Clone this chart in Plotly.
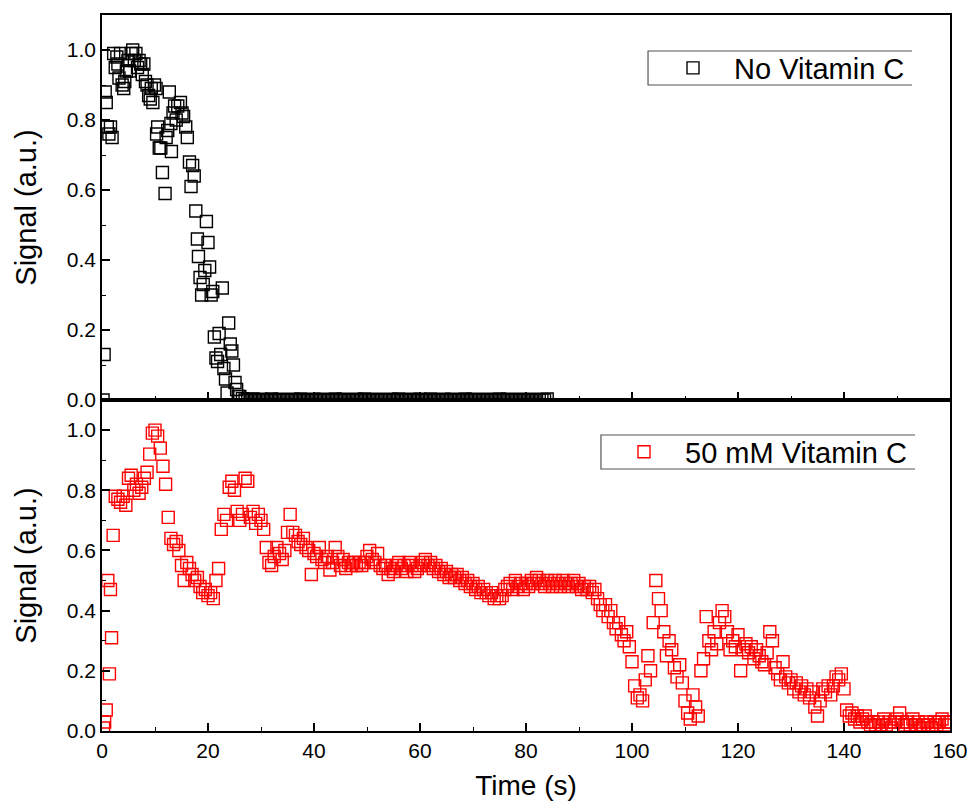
import numpy as np
import plotly.graph_objects as go

# ---- data -----------------------------------------------------------------
# No Vitamin C: (time s, signal a.u.) during the decay phase
NO_VC_DECAY = [
    (0.2, 0.00), (0.4, 0.13), (0.6, 0.88), (0.8, 0.85), (1.0, 0.78), (1.3, 0.76),
    (1.6, 0.78), (1.9, 0.75), (2.2, 0.99), (2.5, 0.95), (2.8, 0.98), (3.0, 0.96),
    (3.2, 0.92), (3.5, 0.99), (3.8, 0.90), (4.1, 0.89), (4.3, 0.91), (4.6, 0.94),
    (4.9, 0.97), (5.2, 0.94), (5.5, 0.99), (5.8, 1.00), (6.1, 0.97), (6.4, 0.99),
    (6.7, 0.95), (7.0, 0.97), (7.3, 0.96), (7.6, 0.93), (7.9, 0.96), (8.2, 0.91),
    (8.5, 0.90), (8.8, 0.87), (9.1, 0.86), (9.3, 0.89), (9.6, 0.85), (9.9, 0.90),
    (10.2, 0.89), (10.3, 0.76), (10.5, 0.78), (10.8, 0.72), (11.1, 0.72), (11.4, 0.65),
    (11.9, 0.59), (12.1, 0.75), (12.4, 0.77), (12.7, 0.88), (13.0, 0.79), (13.1, 0.71),
    (13.4, 0.82), (13.7, 0.84), (14.0, 0.80), (14.3, 0.84), (14.8, 0.85), (15.1, 0.82),
    (15.4, 0.81), (15.8, 0.78), (16.1, 0.75), (16.5, 0.68), (16.8, 0.61), (17.1, 0.67),
    (17.4, 0.64), (17.7, 0.54), (18.0, 0.46), (18.2, 0.41), (18.5, 0.35), (18.8, 0.30),
    (19.1, 0.33), (19.4, 0.37), (19.7, 0.51), (20.0, 0.45), (20.3, 0.38), (20.6, 0.30),
    (20.9, 0.31), (21.2, 0.18), (21.5, 0.12), (21.8, 0.11), (22.1, 0.19), (22.4, 0.13),
    (22.7, 0.32), (23.0, 0.09), (23.3, 0.06), (23.6, 0.02), (23.9, 0.22), (24.2, 0.16),
    (24.5, 0.14), (24.8, 0.10), (25.1, 0.05), (25.4, 0.03), (25.7, 0.01), (26.0, 0.01),
]

# No Vitamin C: baseline after the signal is gone, sampled every 0.5 s from 26.5 s
NO_VC_BASE_START = 26.5
NO_VC_BASE_STEP = 0.5
NO_VC_BASE = [
    0.004, 0.0, 0.002, 0.0, 0.003, 0.0, 0.0, 0.002, 0.0, 0.001,
    0.0, 0.003, 0.0, 0.0, 0.002, 0.0, 0.001, 0.0, 0.0, 0.002,
    0.0, 0.0, 0.003, 0.0, 0.001, 0.0, 0.0, 0.002, 0.0, 0.0,
    0.002, 0.0, 0.0, 0.001, 0.0, 0.003, 0.0, 0.0, 0.002, 0.0,
    0.0, 0.001, 0.0, 0.002, 0.0, 0.0, 0.003, 0.0, 0.0, 0.001,
    0.0, 0.002, 0.0, 0.0, 0.001, 0.0, 0.002, 0.0, 0.0, 0.003,
    0.0, 0.0, 0.001, 0.0, 0.002, 0.0, 0.0, 0.002, 0.0, 0.001,
    0.0, 0.003, 0.0, 0.0, 0.001, 0.0, 0.002, 0.0, 0.0, 0.002,
    0.0, 0.0, 0.001, 0.0, 0.003, 0.0, 0.0, 0.002, 0.0, 0.0,
    0.001, 0.0, 0.002, 0.0, 0.0, 0.001, 0.0, 0.003, 0.0, 0.0,
    0.002, 0.0, 0.0, 0.001, 0.0, 0.002, 0.0, 0.0, 0.001, 0.0,
    0.002, 0.0, 0.0, 0.001, 0.0, 0.003,
]

# 50 mM Vitamin C: onset points (time s, signal a.u.)
VC_ONSET = [
    (0.3, 0.01), (0.5, 0.03), (0.8, 0.07), (1.1, 0.50),
    (1.4, 0.19), (1.6, 0.47), (1.8, 0.31), (2.1, 0.65),
]

# 50 mM Vitamin C: signal sampled every 0.5 s from 2.5 s (one row = 5 s)
VC_START = 2.5
VC_STEP = 0.5
VC_SIGNAL = [
    0.78, 0.77, 0.76, 0.78, 0.75, 0.84, 0.85, 0.80, 0.82, 0.79,   # 2.5
    0.81, 0.84, 0.86, 0.92, 0.99, 1.00, 0.98, 0.94, 0.88, 0.82,   # 7.5
    0.71, 0.64, 0.62, 0.63, 0.60, 0.55, 0.50, 0.56, 0.54, 0.52,   # 12.5
    0.50, 0.51, 0.48, 0.46, 0.47, 0.45, 0.46, 0.44, 0.50, 0.54,   # 17.5
    0.67, 0.72, 0.70, 0.81, 0.83, 0.80, 0.73, 0.70, 0.72, 0.84,   # 22.5
    0.83, 0.71, 0.73, 0.69, 0.72, 0.70, 0.67, 0.61, 0.56, 0.55,   # 27.5
    0.58, 0.61, 0.59, 0.57, 0.60, 0.66, 0.72, 0.66, 0.65, 0.63,   # 32.5
    0.62, 0.64, 0.61, 0.60, 0.52, 0.59, 0.58, 0.61, 0.57, 0.56,   # 37.5
    0.58, 0.535, 0.56, 0.61, 0.58, 0.55, 0.57, 0.54, 0.56, 0.55,  # 42.5
    0.56, 0.55, 0.56, 0.55, 0.56, 0.58, 0.60, 0.57, 0.56, 0.59,   # 47.5
    0.55, 0.54, 0.55, 0.52, 0.54, 0.53, 0.55, 0.56, 0.54, 0.55,   # 52.5
    0.53, 0.56, 0.55, 0.53, 0.54, 0.55, 0.56, 0.57, 0.55, 0.56,   # 57.5
    0.54, 0.55, 0.53, 0.54, 0.52, 0.53, 0.51, 0.52, 0.51, 0.52,   # 62.5
    0.50, 0.51, 0.49, 0.50, 0.48, 0.49, 0.47, 0.48, 0.46, 0.47,   # 67.5
    0.46, 0.45, 0.46, 0.44, 0.45, 0.44, 0.45, 0.47, 0.48, 0.49,   # 72.5
    0.47, 0.50, 0.48, 0.49, 0.47, 0.49, 0.48, 0.50, 0.49, 0.51,   # 77.5
    0.50, 0.49, 0.48, 0.50, 0.49, 0.48, 0.50, 0.49, 0.48, 0.50,   # 82.5
    0.49, 0.48, 0.49, 0.50, 0.48, 0.49, 0.47, 0.48, 0.47, 0.48,   # 87.5
    0.46, 0.47, 0.44, 0.42, 0.40, 0.42, 0.38, 0.40, 0.36, 0.34,   # 92.5
    0.36, 0.32, 0.30, 0.33, 0.28, 0.23, 0.15, 0.11, 0.12, 0.10,   # 97.5
    0.17, 0.25, 0.20, 0.36, 0.50, 0.44, 0.40, 0.33, 0.25, 0.30,   # 102.5
    0.27, 0.21, 0.18, 0.22, 0.16, 0.10, 0.06, 0.04, 0.12, 0.08,   # 107.5
    0.05, 0.20, 0.24, 0.38, 0.30, 0.27, 0.33, 0.29, 0.36, 0.40,   # 112.5
    0.38, 0.33, 0.27, 0.30, 0.28, 0.32, 0.20, 0.27, 0.29, 0.26,   # 117.5
    0.28, 0.24, 0.27, 0.25, 0.23, 0.22, 0.26, 0.33, 0.30, 0.21,   # 122.5
    0.19, 0.17, 0.23, 0.18, 0.16, 0.17, 0.14, 0.16, 0.13, 0.15,   # 127.5
    0.12, 0.14, 0.11, 0.13, 0.08, 0.05, 0.10, 0.14, 0.13, 0.15,   # 132.5
    0.12, 0.15, 0.18, 0.17, 0.19, 0.14, 0.07, 0.05, 0.06, 0.04,   # 137.5
    0.05, 0.03, 0.04, 0.05, 0.03, 0.02, 0.03, 0.02, 0.03, 0.02,   # 142.5
    0.04, 0.02, 0.03, 0.01, 0.03, 0.04, 0.06, 0.03, 0.02, 0.03,   # 147.5
    0.02, 0.04, 0.02, 0.03, 0.01, 0.02, 0.03, 0.02, 0.01, 0.03,   # 152.5
    0.02, 0.03, 0.04, 0.02, 0.03, 0.03,                           # 157.5
]

X_TICKS = [0, 20, 40, 60, 80, 100, 120, 140, 160]
Y_TICKS = [0.0, 0.2, 0.4, 0.6, 0.8, 1.0]

# ---- assemble series -------------------------------------------------------
t_decay, s_decay = zip(*NO_VC_DECAY)
t_base = NO_VC_BASE_START + NO_VC_BASE_STEP * np.arange(len(NO_VC_BASE))
t_no = np.concatenate([t_decay, t_base])
s_no = np.concatenate([s_decay, NO_VC_BASE])

t_on, s_on = zip(*VC_ONSET)
t_grid = VC_START + VC_STEP * np.arange(len(VC_SIGNAL))
t_vc = np.concatenate([t_on, t_grid])
s_vc = np.concatenate([s_on, VC_SIGNAL])

FONT = "Liberation Sans, Arial, sans-serif"

fig = go.Figure()
fig.add_trace(go.Scatter(
    x=t_no, y=s_no, mode="markers", name="No Vitamin C",
    xaxis="x2", yaxis="y2", legend="legend",
    marker=dict(symbol="square-open", size=12, color="black", line=dict(width=1.4)),
))
fig.add_trace(go.Scatter(
    x=t_vc, y=s_vc, mode="markers", name="50 mM Vitamin C",
    xaxis="x", yaxis="y", legend="legend2",
    marker=dict(symbol="square-open", size=12, color="#ff0000", line=dict(width=1.4)),
))

split = 331 / 716

common_x = dict(
    range=[0, 160], tickvals=X_TICKS, ticks="inside", ticklen=8, tickwidth=1.5,
    tickcolor="black", showline=True, linecolor="black", linewidth=1.5,
    mirror=True, showgrid=False, zeroline=False, automargin=False,
    minor=dict(ticks="inside", ticklen=4, tickwidth=1.2, dtick=10, tick0=0, tickcolor="black"),
    tickfont=dict(family=FONT, size=21, color="black"),
)
common_y = dict(
    range=[0, 1.1], tickvals=Y_TICKS, tickformat=".1f", ticks="inside", ticklen=8,
    tickwidth=1.5, tickcolor="black", showline=True, linecolor="black", linewidth=1.5,
    mirror=True, showgrid=False, zeroline=False, automargin=False,
    minor=dict(ticks="inside", ticklen=4, tickwidth=1.2, dtick=0.1, tick0=0, tickcolor="black"),
    tickfont=dict(family=FONT, size=21, color="black"),
    title=dict(text="Signal (a.u.)", font=dict(family=FONT, size=29, color="black"), standoff=22),
)

legend_common = dict(
    xanchor="left", yanchor="middle", bgcolor="rgba(0,0,0,0)", borderwidth=0,
    font=dict(family=FONT, size=29, color="black"), itemwidth=72,
)

# open-ended frames around the two legend entries (paper coordinates)
frame_style = dict(type="path", xref="paper", yref="paper", line=dict(color="#555555", width=1.2))
legend_frames = [
    dict(frame_style, path="M 0.9552 0.9497 L 0.6439 0.9497 L 0.6439 0.9022 L 0.9552 0.9022"),
    dict(frame_style, path="M 0.9587 0.4134 L 0.5884 0.4134 L 0.5884 0.3659 L 0.9587 0.3659"),
]

fig.update_layout(
    width=969, height=801,
    margin=dict(l=102, r=19, t=15, b=70, autoexpand=False),
    paper_bgcolor="white", plot_bgcolor="white",
    showlegend=True,
    xaxis=dict(common_x, anchor="y", domain=[0, 1],
               title=dict(text="Time (s)", font=dict(family=FONT, size=28, color="black"), standoff=16)),
    yaxis=dict(common_y, anchor="x", domain=[0, split]),
    xaxis2=dict(common_x, anchor="y2", domain=[0, 1], matches="x", showticklabels=False),
    yaxis2=dict(common_y, anchor="x2", domain=[split, 1]),
    legend=dict(legend_common, x=0.6486, y=0.926),
    legend2=dict(legend_common, x=0.5908, y=0.3897),
    shapes=legend_frames,
)

fig.write_html("out.html")
